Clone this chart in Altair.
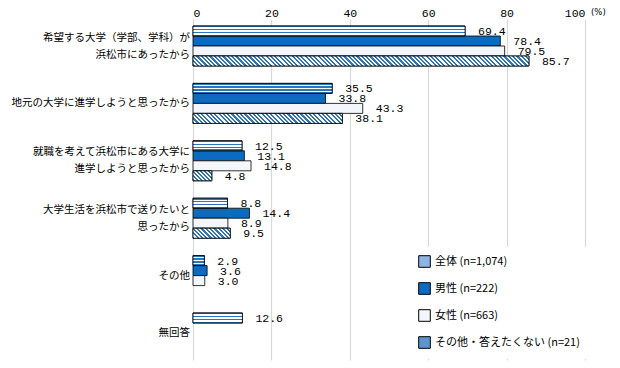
import altair as alt
import pandas as pd

categories = [
    "希望する大学（学部、学科）が\n浜松市にあったから",
    "地元の大学に進学しようと思ったから",
    "就職を考えて浜松市にある大学に\n進学しようと思ったから",
    "大学生活を浜松市で送りたいと\n思ったから",
    "その他",
    "無回答",
]
series = ["全体 (n=1,074)", "男性 (n=222)", "女性 (n=663)", "その他・答えたくない (n=21)"]
v_all = [69.4, 35.5, 12.5, 8.8, 2.9, 12.6]
v_male = [78.4, 33.8, 13.1, 14.4, 3.6, None]
v_female = [79.5, 43.3, 14.8, 8.9, 3.0, None]
v_other = [85.7, 38.1, 4.8, 9.5, None, None]
x_ticks = [0, 20, 40, 60, 80, 100]

rows = []
for s, vals in zip(series, [v_all, v_male, v_female, v_other]):
    for c, v in zip(categories, vals):
        if v is not None:
            rows.append({"cat": c, "series": s, "value": v})
df = pd.DataFrame(rows)
cat_df = pd.DataFrame({"cat": categories, "two": ["\n" in c for c in categories]})

colors = ["#8DB4E2", "#0B6BC0", "#F3F6FA", "#5F95CF"]
BLUE = "#2E75B6"
JP = "Noto Sans CJK JP"
MONO = "Liberation Mono"
W_PLOT = 392
H_PLOT = 341

y_enc = alt.Y("cat:N", sort=categories, axis=None,
              scale=alt.Scale(domain=categories, paddingInner=0.3031, paddingOuter=0.122))
yoff = alt.YOffset("series:N", sort=series,
                   scale=alt.Scale(domain=series, paddingInner=0, paddingOuter=0))
x_enc = alt.X(
    "value:Q", scale=alt.Scale(domain=[0, 100]),
    axis=alt.Axis(orient="top", values=x_ticks, title=None, ticks=False, domain=False,
                  grid=True, gridColor="#D9D9D9", gridWidth=1.2, labelFont=MONO,
                  labelFontSize=11.5, labelColor="black", labelPadding=3,
                  labelBaseline="alphabetic", labelOverlap=False),
)

base = alt.Chart(df)

# category labels (drawn as text so two-line labels are centred on their group)
cat_one = alt.Chart(cat_df).transform_filter("!datum.two").mark_text(
    align="right", baseline="middle", font=JP, fontSize=10.5, color="black",
    lineBreak="\n").encode(x=alt.value(-3), y=y_enc, text="cat:N")
cat_two = alt.Chart(cat_df).transform_filter("datum.two").mark_text(
    align="right", baseline="middle", font=JP, fontSize=10.5, color="black",
    lineBreak="\n", lineHeight=17, dy=-8.5).encode(x=alt.value(-3), y=y_enc, text="cat:N")

labels = base.mark_text(align="left", baseline="middle", dx=13, dy=1, font=MONO,
                        fontSize=11.5, color="black").encode(
    x=x_enc, y=y_enc, yOffset=yoff, text=alt.Text("value:Q", format=".1f"))

bars = base.mark_bar(stroke="black", strokeWidth=0.8).encode(
    x=x_enc, y=y_enc, yOffset=yoff,
    color=alt.Color("series:N", sort=series,
                    scale=alt.Scale(domain=series, range=colors),
                    legend=alt.Legend(orient="none", legendX=217, legendY=228, title=None,
                                      symbolType="square", symbolSize=135,
                                      symbolStrokeColor="black", symbolStrokeWidth=1,
                                      labelFont=JP, labelFontSize=11, labelColor="black",
                                      rowPadding=10, fillColor="white", padding=8,
                                      labelLimit=300)),
)

# horizontal stripes for 全体
stops = []
n = 7
for i in range(n):
    c = BLUE if i % 2 == 0 else "#FFFFFF"
    stops.append(alt.GradientStop(color=c, offset=i / n))
    stops.append(alt.GradientStop(color=c, offset=(i + 1) / n))
hstripe = alt.LinearGradient(gradient="linear", stops=stops, x1=0, x2=0, y1=0, y2=1)
stripes = base.transform_filter(alt.FieldEqualPredicate(field="series", equal=series[0])).mark_bar(
    fill=hstripe, stroke="black", strokeWidth=0.8).encode(x=x_enc, y=y_enc, yOffset=yoff)


# diagonal stripes for その他・答えたくない (one gradient per bar, fitted to its box)
def diag_gradient(value, bar_h=10.0, period=4.3):
    w = max(value / 100 * W_PLOT, 1.0)
    k = (w + bar_h) / (w * w + bar_h * bar_h)
    nper = max(1, round((w + bar_h) / period))
    st = []
    for i in range(nper):
        a, b, c2 = i / nper, (i + 0.5) / nper, (i + 1) / nper
        st += [alt.GradientStop(color=BLUE, offset=a), alt.GradientStop(color=BLUE, offset=b),
               alt.GradientStop(color="#FFFFFF", offset=b), alt.GradientStop(color="#FFFFFF", offset=c2)]
    return alt.LinearGradient(gradient="linear", stops=st, x1=0, y1=1, x2=k * w, y2=1 - k * bar_h)


diag_layers = []
for c, v in zip(categories, v_other):
    if v is None:
        continue
    diag_layers.append(
        base.transform_filter(alt.FieldEqualPredicate(field="series", equal=series[3]))
        .transform_filter(alt.FieldEqualPredicate(field="cat", equal=c))
        .mark_bar(fill=diag_gradient(v), stroke="black", strokeWidth=0.8)
        .encode(x=x_enc, y=y_enc, yOffset=yoff)
    )

pct = alt.Chart(pd.DataFrame({"t": ["(%)"]})).mark_text(
    align="left", baseline="alphabetic", dx=6, font="DejaVu Sans", fontSize=8.5,
    color="black").encode(x=alt.datum(100), y=alt.value(-4), text="t:N")

chart = alt.layer(labels, bars, stripes, *diag_layers, cat_one, cat_two, pct).properties(
    width=W_PLOT, height=H_PLOT,
    autosize=alt.AutoSizeParams(type="none"),
    padding={"left": 185, "top": 11, "right": 27, "bottom": 8},
).configure_view(stroke=None)

chart.save("out.html", embed_options={"renderer": "svg", "actions": False})
